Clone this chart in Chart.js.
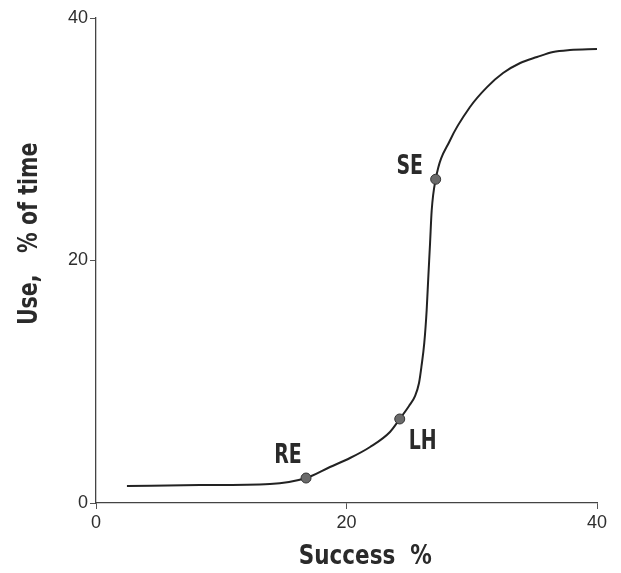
<!DOCTYPE html>
<html>
<head>
<meta charset="utf-8">
<script src="https://cdn.jsdelivr.net/npm/chart.js@4/dist/chart.umd.min.js"></script>
<style>
  html, body { margin: 0; padding: 0; background: #ffffff; }
  #wrap { width: 621px; height: 573px; }
</style>
</head>
<body>
<div id="wrap"><canvas id="c" width="621" height="573"></canvas></div>
<script>
// Curve: use (% of time) versus success (%)
const successPct = [2.47, 8.3, 13.89, 16.77, 18.68, 20.28, 21.88, 23.47, 24.25, 24.99, 25.47, 25.79, 25.99, 26.21, 26.4, 26.53, 26.67, 26.8, 27.12, 28.26, 29.86, 31.22, 32.5, 33.87, 35.21, 36.49, 37.84, 40.0];
const usePct     = [1.4, 1.48, 1.57, 2.06, 2.97, 3.71, 4.62, 5.86, 6.93, 8.0, 8.82, 9.9, 11.3, 13.2, 15.9, 18.6, 21.4, 24.1, 26.7, 29.9, 32.66, 34.3, 35.46, 36.29, 36.78, 37.2, 37.36, 37.44];

// Labelled points
const markerNames   = ['RE', 'LH', 'SE'];
const markerSuccess = [16.77, 24.25, 27.12];
const markerUse     = [2.06, 6.93, 26.7];

// Axis ticks
const xTicks = [0, 20, 40];
const yTicks = [0, 20, 40];

const xTitle = 'Success  %';
const yTitle = 'Use,   % of time';

const boldFont = '"DejaVu Sans Condensed", "Liberation Sans Narrow", "DejaVu Sans", sans-serif';
const tickFont = '"Liberation Sans", Arial, sans-serif';

const labelOffsets = { RE: [-18, -22], LH: [23, 23], SE: [-26, -12] };

function drawSqueezed(ctx, text, x, y, rot, sx) {
  ctx.save();
  ctx.translate(x, y);
  if (rot) ctx.rotate(rot);
  ctx.scale(sx, 1);
  ctx.fillText(text, 0, 0);
  ctx.restore();
}

const textPlugin = {
  id: 'texts',
  afterDraw(chart) {
    const ctx = chart.ctx;
    const xs = chart.scales.x, ys = chart.scales.y;
    ctx.save();
    ctx.fillStyle = '#2a2a2a';
    ctx.textAlign = 'center';
    ctx.textBaseline = 'middle';
    // point labels
    ctx.font = 'bold 27px ' + boldFont;
    markerNames.forEach((n, i) => {
      const px = xs.getPixelForValue(markerSuccess[i]);
      const py = ys.getPixelForValue(markerUse[i]);
      const o = labelOffsets[n];
      drawSqueezed(ctx, n, px + o[0], py + o[1], 0, 0.78);
    });
    // x title
    ctx.font = 'bold 26px ' + boldFont;
    drawSqueezed(ctx, xTitle, xs.getPixelForValue(21.5), 557, 0, 0.92);
    // y title
    ctx.font = 'bold 26px ' + boldFont;
    drawSqueezed(ctx, yTitle, 30, ys.getPixelForValue(22.2), -Math.PI / 2, 0.88);
    ctx.restore();
  }
};

new Chart(document.getElementById('c'), {
  type: 'scatter',
  data: {
    datasets: [
      {
        data: successPct.map((x, i) => ({ x, y: usePct[i] })),
        showLine: true,
        borderColor: '#222222',
        borderWidth: 2,
        pointRadius: 0,
        cubicInterpolationMode: 'monotone',
        fill: false,
        order: 2
      },
      {
        data: markerSuccess.map((x, i) => ({ x, y: markerUse[i] })),
        showLine: false,
        pointRadius: 5,
        pointBackgroundColor: '#6a6a6a',
        pointBorderColor: '#333333',
        pointBorderWidth: 1,
        order: 1
      }
    ]
  },
  options: {
    responsive: false,
    animation: false,
    devicePixelRatio: 1,
    layout: { padding: { top: 18, right: 24, left: 0, bottom: 0 } },
    plugins: { legend: { display: false }, tooltip: { enabled: false } },
    scales: {
      x: {
        type: 'linear',
        min: 0, max: 40,
        afterBuildTicks(s) { s.ticks = xTicks.map(v => ({ value: v })); },
        afterFit(s) { s.height = 70; },
        grid: { display: true, drawOnChartArea: false, drawTicks: true, tickLength: 6, color: '#555555' },
        border: { display: true, color: '#444444', width: 1.3 },
        ticks: { color: '#2e2e2e', font: { family: tickFont, size: 18 }, padding: 3, maxRotation: 0 }
      },
      y: {
        type: 'linear',
        min: 0, max: 40,
        afterBuildTicks(s) { s.ticks = yTicks.map(v => ({ value: v })); },
        afterFit(s) { s.width = 96; },
        grid: { display: true, drawOnChartArea: false, drawTicks: true, tickLength: 6, color: '#555555' },
        border: { display: true, color: '#444444', width: 1.3 },
        ticks: { color: '#2e2e2e', font: { family: tickFont, size: 18 }, padding: 2 }
      }
    }
  },
  plugins: [textPlugin]
});
</script>
</body>
</html>
